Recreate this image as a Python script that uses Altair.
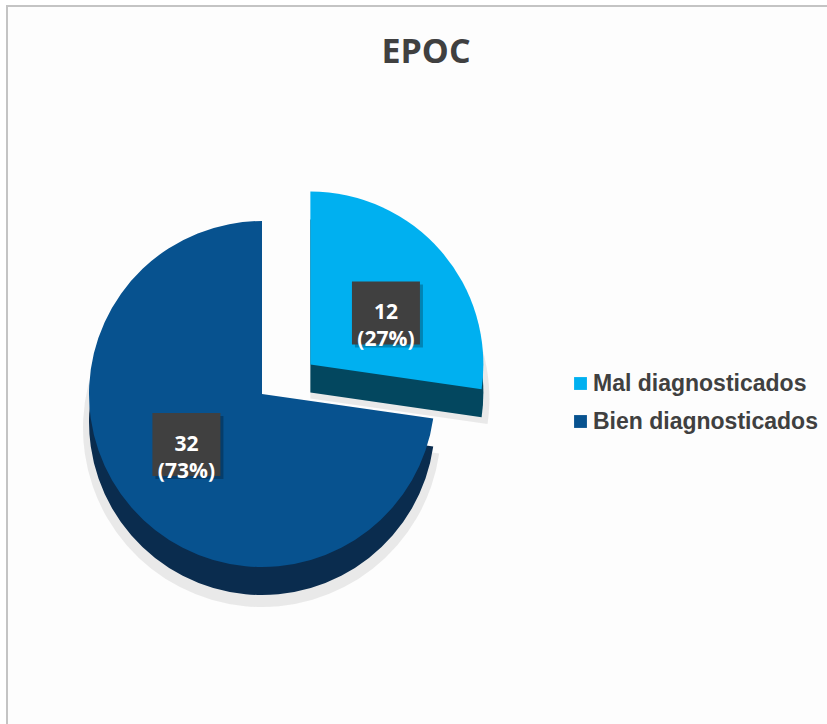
import altair as alt
import pandas as pd

# ---- data ----
categories = ["Mal diagnosticados", "Bien diagnosticados"]
counts = [12, 32]
exploded = [1, 0]
top_colors = ["#00B0F0", "#07528F"]
side_colors = ["#03475F", "#0A2C4E"]
title_text = "EPOC"

df = pd.DataFrame({
    "category": categories,
    "count": counts,
    "order": list(range(len(categories))),
    "exploded": exploded,
})

CX, CY, R, DEPTH = 262, 394, 173, 28

base = alt.Chart(df).transform_joinaggregate(
    total="sum(count)"
).transform_window(
    cum="sum(count)", sort=[alt.SortField("order")], frame=[None, 0]
).transform_calculate(
    start="2*PI*(datum.cum - datum.count)/datum.total",
    end="2*PI*datum.cum/datum.total",
).transform_calculate(
    mid="(datum.start + datum.end)/2",
).transform_calculate(
    cx=f"{CX} + datum.exploded*64*sin(datum.mid)",
    cy=f"{CY} - datum.exploded*45*cos(datum.mid)",
).transform_calculate(
    sy=f"datum.cy + {DEPTH}",
    shy=f"datum.cy + {DEPTH} + 6",
    lx="datum.cx + 100*sin(datum.mid)",
    ly="datum.cy - 78*cos(datum.mid)",
    label="datum.count + '\\n(' + format(datum.count/datum.total, '.0%') + ')'",
).transform_calculate(
    bx1="datum.lx - 34", bx2="datum.lx + 34",
    by1="datum.ly - 32", by2="datum.ly + 31",
    sbx1="datum.lx - 31", sbx2="datum.lx + 37",
    sby1="datum.ly - 29", sby2="datum.ly + 34",
)

theta = alt.Theta("start:Q", scale=None)
theta2 = alt.Theta2("end:Q")

frame = alt.Chart(pd.DataFrame({"a": [0]})).mark_rect(
    fill="#FDFDFD", stroke="#C4C4C4", strokeWidth=2
).encode(x=alt.value(7), x2=alt.value(840), y=alt.value(6), y2=alt.value(740))

shadow = base.mark_arc(radius=R + 6, color="#E4E4E4", opacity=0.8).encode(
    x=alt.X("cx:Q", scale=None), y=alt.Y("shy:Q", scale=None),
    theta=theta, theta2=theta2,
)

sides = base.mark_arc(radius=R).encode(
    x=alt.X("cx:Q", scale=None), y=alt.Y("sy:Q", scale=None),
    theta=theta, theta2=theta2,
    color=alt.Color("category:N", scale=alt.Scale(domain=categories, range=side_colors), legend=None),
)

tops = base.mark_arc(radius=R).encode(
    x=alt.X("cx:Q", scale=None), y=alt.Y("cy:Q", scale=None),
    theta=theta, theta2=theta2,
    color=alt.Color(
        "category:N",
        scale=alt.Scale(domain=categories, range=top_colors),
        legend=alt.Legend(
            title=None, orient="none", legendX=569, legendY=372,
            symbolType="square", symbolSize=165, symbolStrokeWidth=0,
            labelFont="Liberation Sans", labelFontSize=23, labelFontWeight="bold",
            labelColor="#404040", rowPadding=14, labelOffset=1, padding=0,
            labelLimit=400,
        ),
    ),
)

box_shadow = base.mark_rect(color="#000000", opacity=0.25).encode(
    x=alt.X("sbx1:Q", scale=None), x2="sbx2:Q",
    y=alt.Y("sby1:Q", scale=None), y2="sby2:Q",
)
boxes = base.mark_rect(color="#404040").encode(
    x=alt.X("bx1:Q", scale=None), x2="bx2:Q",
    y=alt.Y("by1:Q", scale=None), y2="by2:Q",
)
labels = base.mark_text(
    font="Open Sans", fontSize=21, fontWeight="bold", color="#FFFFFF",
    lineBreak="\n", lineHeight=27, baseline="middle", align="center",
).encode(
    x=alt.X("lx:Q", scale=None), y=alt.Y("ly:Q", scale=None), text="label:N",
)

title = alt.Chart(pd.DataFrame({"t": [title_text]})).mark_text(
    font="Open Sans", fontSize=34, fontWeight="bold", color="#404040",
    align="center", baseline="alphabetic",
).encode(x=alt.value(426), y=alt.value(63), text="t:N")

chart = alt.layer(
    frame, shadow, sides, tops, box_shadow, boxes, labels, title
).resolve_scale(color="independent").properties(
    width=827, height=724, padding=0, autosize="none", background="#FFFFFF"
).configure_view(stroke=None)

chart.save("out.html", embed_options={"renderer": "svg", "actions": False})
